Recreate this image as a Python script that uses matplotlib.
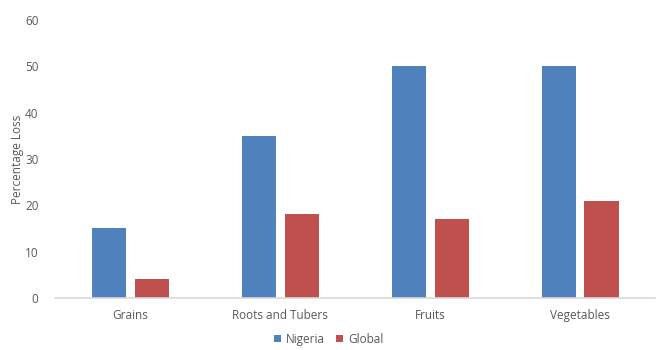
import matplotlib.pyplot as plt
import numpy as np

plt.rcParams['font.family'] = ['Open Sans', 'DejaVu Sans']

categories = ['Grains', 'Roots and Tubers', 'Fruits', 'Vegetables']
nigeria = [15, 35, 50, 50]
global_loss = [4, 18, 17, 21]

blue = '#4F81BD'
red = '#C0504D'
grey = '#595959'

fig = plt.figure(figsize=(6.57, 3.5), dpi=100)
ax = fig.add_axes([0.084, 0.149, 0.913, 0.794])

x = np.arange(len(categories))
w = 0.227
ax.bar(x - 0.143, nigeria, w, color=blue, label='Nigeria')
ax.bar(x + 0.143, global_loss, w, color=red, label='Global')

ax.set_xlim(-0.5, len(categories) - 0.5)
ax.set_ylim(0, 60)
ax.set_yticks(range(0, 61, 10))
ax.set_xticks(x)
ax.set_xticklabels(categories)
ax.tick_params(axis='both', length=0, labelsize=8.5, colors=grey)
ax.tick_params(axis='x', pad=8)
ax.tick_params(axis='y', pad=12)
ax.set_ylabel('Percentage Loss', fontsize=8.5, color=grey, labelpad=1)

for s in ['top', 'right', 'left']:
    ax.spines[s].set_visible(False)
ax.spines['bottom'].set_color('#D9D9D9')
ax.spines['bottom'].set_linewidth(1.2)

fig.legend(loc='lower center', bbox_to_anchor=(0.5, -0.018), ncol=2, frameon=False,
           fontsize=8.5, handlelength=0.6, handleheight=0.6, columnspacing=1.0,
           handletextpad=0.4, labelcolor=grey)

fig.savefig('out.png', dpi=100)
